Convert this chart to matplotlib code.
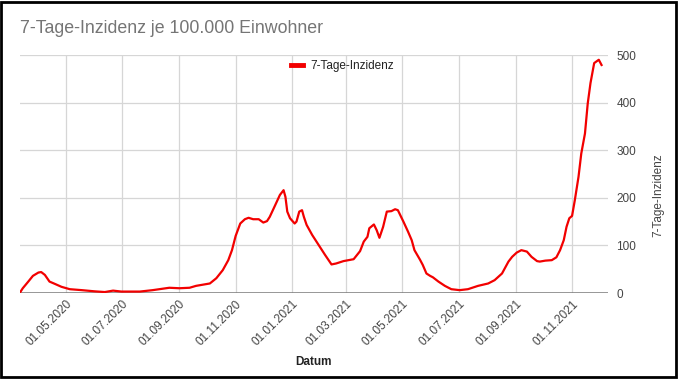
import pandas as pd
import matplotlib.pyplot as plt
import matplotlib.dates as mdates
from matplotlib.lines import Line2D
from matplotlib.patches import Rectangle

plt.rcParams['font.family'] = ['Liberation Sans', 'DejaVu Sans']

title = "7-Tage-Inzidenz je 100.000 Einwohner"
series_name = "7-Tage-Inzidenz"

dates = ["2020-03-12", "2020-03-15", "2020-03-21", "2020-03-26", "2020-04-01", "2020-04-04",
         "2020-04-08", "2020-04-13", "2020-04-19", "2020-04-26", "2020-05-05", "2020-05-18",
         "2020-06-01", "2020-06-12", "2020-06-21", "2020-06-30", "2020-07-20", "2020-08-03",
         "2020-08-21", "2020-09-01", "2020-09-12", "2020-09-19", "2020-10-04", "2020-10-11",
         "2020-10-18", "2020-10-24", "2020-10-28", "2020-11-01", "2020-11-06", "2020-11-11",
         "2020-11-15", "2020-11-20", "2020-11-26", "2020-12-01", "2020-12-05", "2020-12-08",
         "2020-12-14", "2020-12-19", "2020-12-23", "2020-12-25", "2020-12-27", "2020-12-30",
         "2021-01-04", "2021-01-06", "2021-01-09", "2021-01-12", "2021-01-14", "2021-01-17",
         "2021-01-23", "2021-01-30", "2021-02-06", "2021-02-13", "2021-02-18", "2021-02-26",
         "2021-03-09", "2021-03-16", "2021-03-20", "2021-03-24", "2021-03-26", "2021-03-31",
         "2021-04-03", "2021-04-06", "2021-04-10", "2021-04-14", "2021-04-19", "2021-04-23",
         "2021-04-26", "2021-05-02", "2021-05-07", "2021-05-11", "2021-05-14", "2021-05-20",
         "2021-05-23", "2021-05-27", "2021-05-31", "2021-06-03", "2021-06-09", "2021-06-16",
         "2021-06-23", "2021-07-02", "2021-07-11", "2021-07-22", "2021-08-02", "2021-08-09",
         "2021-08-17", "2021-08-24", "2021-08-28", "2021-09-02", "2021-09-07", "2021-09-13",
         "2021-09-18", "2021-09-24", "2021-09-27", "2021-10-03", "2021-10-10", "2021-10-15",
         "2021-10-19", "2021-10-23", "2021-10-26", "2021-10-29", "2021-11-01", "2021-11-04",
         "2021-11-08", "2021-11-11", "2021-11-15", "2021-11-18", "2021-11-21", "2021-11-25",
         "2021-11-30", "2021-12-03"]
inzidenz = [1, 10, 24, 36, 43, 44,
            38, 24, 19, 13, 8, 6,
            3.5, 2, 5, 3, 3, 6,
            11, 10, 11, 15, 20, 31,
            48, 69, 90, 120, 146, 155,
            158, 155, 155, 148, 151, 160,
            185, 206, 216, 202, 171, 157,
            146, 150, 171, 174, 160, 143,
            122, 101, 80, 60, 62, 67,
            71, 88, 108, 118, 136, 144,
            132, 116, 139, 171, 172, 176,
            174, 150, 129, 111, 90, 70,
            59, 41, 36, 33, 24, 15,
            8, 6, 8, 15, 20, 27,
            41, 66, 76, 85, 90, 87,
            76, 67, 66, 68, 69, 75,
            90, 111, 139, 157, 162, 195,
            244, 293, 335, 398, 441, 483,
            490, 479]

x = pd.to_datetime(dates)

fig = plt.figure(figsize=(6.79, 3.79), dpi=100)
ax = fig.add_axes([20/679, 1-293/379, 588/679, 238/379])

ax.plot(x, inzidenz, color='#f20000', lw=1.6, solid_joinstyle='round', zorder=3)
ax.axhline(0, color='#7a7a7a', lw=1.8, zorder=2)

ax.set_xlim(pd.Timestamp("2020-03-12"), pd.Timestamp("2021-12-10"))
ax.set_ylim(0, 500)
ax.set_yticks([0, 100, 200, 300, 400, 500])
ax.xaxis.set_major_locator(mdates.MonthLocator(bymonth=[1, 3, 5, 7, 9, 11]))
ax.xaxis.set_major_formatter(mdates.DateFormatter('%d.%m.%Y'))
ax.yaxis.tick_right()
ax.yaxis.set_label_position('right')
ax.grid(True, color='#d6d6d6', lw=0.9)
ax.set_axisbelow(True)
for s in ax.spines.values():
    s.set_visible(False)
ax.tick_params(length=0, labelsize=8.5, colors='#444444')
ax.tick_params(axis='y', pad=6)
for lbl in ax.get_xticklabels():
    lbl.set_rotation(45)
    lbl.set_ha('right')
    lbl.set_rotation_mode('anchor')

ax.set_ylabel(series_name, fontsize=8.5, color='#444444')
ax.yaxis.set_label_coords(1.075, 0.41)
fig.text(314/679, 1-362/379, "Datum", fontsize=8.5, fontweight='bold', color='#222222',
         ha='center', va='center')

fig.text(20/679, 1-33/379, title, fontsize=12.8, color='#757575', ha='left', va='baseline')

h = Line2D([], [], color='#f20000', lw=3.5)
fig.legend([h], [series_name], loc='center left', bbox_to_anchor=(291/679, 1-66/379),
           frameon=False, fontsize=8.5, handlelength=1.0, handletextpad=0.6,
           borderpad=0, borderaxespad=0, labelcolor='#222222')

fig.patches.append(Rectangle((0.002, 0.004), 0.994, 0.992, transform=fig.transFigure,
                             fill=False, edgecolor='black', lw=2))

plt.savefig("out.png", dpi=100)
